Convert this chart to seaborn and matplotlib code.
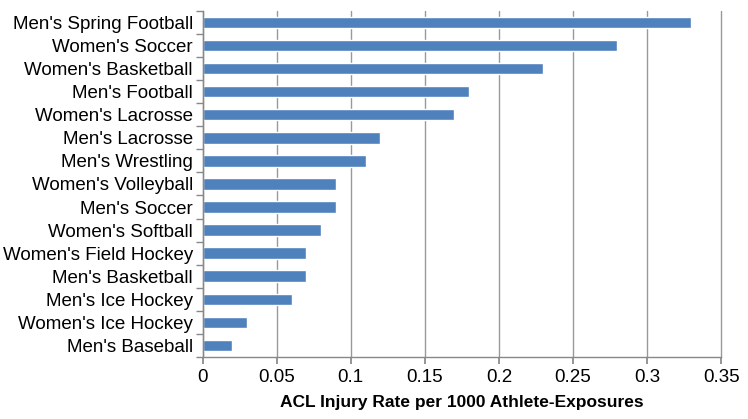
import matplotlib
matplotlib.use("Agg")
import matplotlib.pyplot as plt
import numpy as np
import pandas as pd
import seaborn as sns

sports = [
    "Men's Spring Football", "Women's Soccer", "Women's Basketball",
    "Men's Football", "Women's Lacrosse", "Men's Lacrosse", "Men's Wrestling",
    "Women's Volleyball", "Men's Soccer", "Women's Softball",
    "Women's Field Hockey", "Men's Basketball", "Men's Ice Hockey",
    "Women's Ice Hockey", "Men's Baseball",
]
rates = [0.33, 0.28, 0.23, 0.18, 0.17, 0.12, 0.11, 0.09, 0.09, 0.08,
         0.07, 0.07, 0.06, 0.03, 0.02]
xticks = [0, 0.05, 0.1, 0.15, 0.2, 0.25, 0.3, 0.35]
xtick_labels = ["0", "0.05", "0.1", "0.15", "0.2", "0.25", "0.3", "0.35"]

df = pd.DataFrame({"sport": sports, "rate": rates})

sns.set_theme(style="white")
plt.rcParams["font.family"] = ["Liberation Sans", "DejaVu Sans"]
plt.rcParams["text.color"] = "black"
plt.rcParams["xtick.labelcolor"] = "black"
plt.rcParams["ytick.labelcolor"] = "black"

fig = plt.figure(figsize=(7.48, 4.19), dpi=100)
ax = fig.add_axes([0.271, 0.148, 0.693, 0.826])

sns.barplot(data=df, x="rate", y="sport", color="#4F81BD", saturation=1,
            width=0.5, ax=ax)

ax.set_xlim(0, 0.35)
ax.set_ylim(len(sports) - 0.5, -0.5)
ax.set_xticks(xticks)
ax.set_xticklabels(xtick_labels, fontsize=13.5)
ax.tick_params(axis="x", direction="out", length=5, color="#888888",
               bottom=True, pad=4)
ax.tick_params(axis="y", which="major", length=0, labelsize=13.5, pad=7)
ax.set_yticks(np.arange(len(sports) + 1) - 0.5, minor=True)
ax.tick_params(axis="y", which="minor", direction="out", length=5,
               color="#888888", left=True)

ax.grid(axis="x", color="#999999", linewidth=1)
for line in ax.get_xgridlines():
    line.set_clip_on(False)
ax.set_axisbelow(True)
for side in ["top", "right"]:
    ax.spines[side].set_visible(False)
for side in ["left", "bottom"]:
    ax.spines[side].set_color("#888888")
    ax.spines[side].set_linewidth(1)

ax.set_ylabel("")
ax.set_xlabel("ACL Injury Rate per 1000 Athlete-Exposures", fontsize=12.5,
              fontweight="bold", labelpad=6, color="black")

fig.savefig("out.png", dpi=100)
